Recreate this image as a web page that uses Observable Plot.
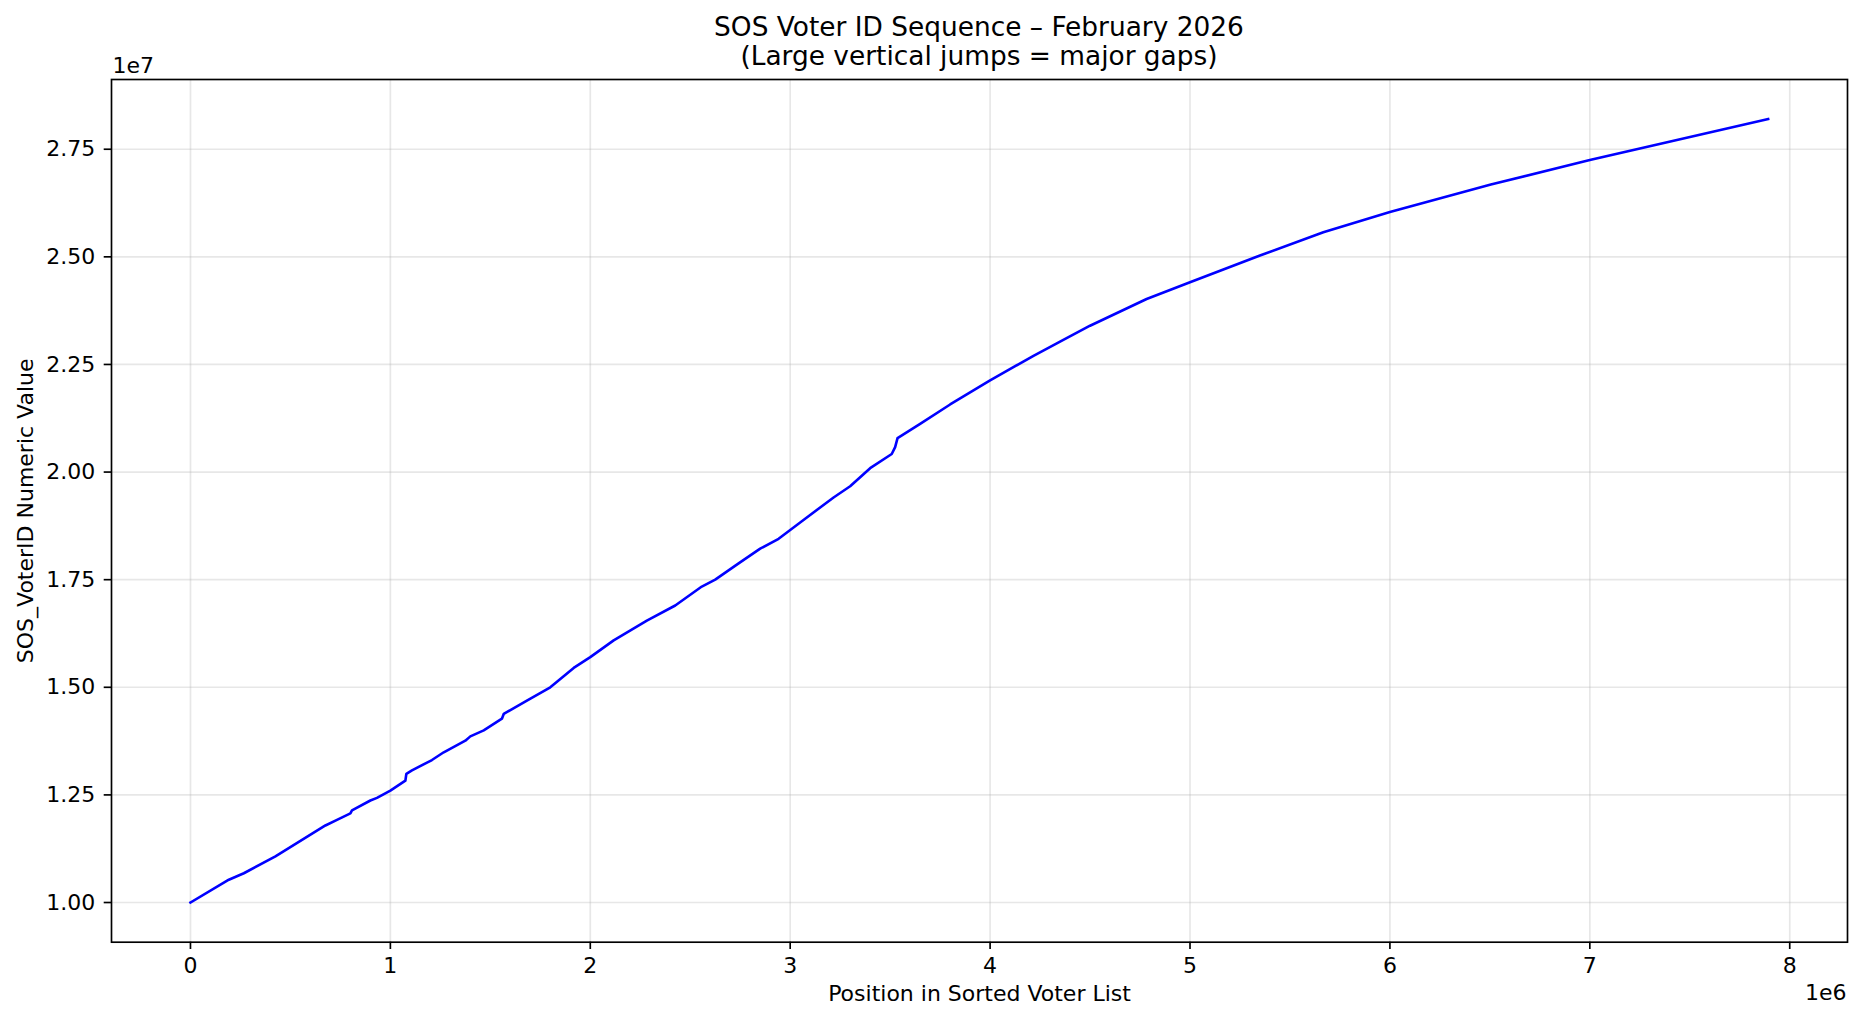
<!DOCTYPE html>
<html>
<head>
<meta charset="utf-8">
<script src="https://cdn.jsdelivr.net/npm/d3@7"></script>
<script src="https://cdn.jsdelivr.net/npm/@observablehq/plot@0.6"></script>
<style>
  html, body { margin: 0; padding: 0; background: #fff; }
  body { font-family: "DejaVu Sans", sans-serif; width: 1863px; height: 1022px; overflow: hidden; }
  #title { position: relative; height: 70px; box-sizing: border-box; padding-top: 11.9px; margin-left: 111px; width: 1736px;
           text-align: center; font-size: 26.4px; line-height: 29.3px; color: #000; white-space: nowrap; }
  #chart svg { display: block; }
</style>
</head>
<body>
<div id="title"><div>SOS Voter ID Sequence – February 2026</div><div>(Large vertical jumps = major gaps)</div></div>
<div id="chart"></div>
<script>
// Position in sorted voter list (units of 1e6)
const positionsM = [0, 0.192, 0.267, 0.425, 0.675, 0.733, 0.80, 0.808, 0.90, 0.933, 1.0, 1.075, 1.08, 1.108,
  1.208, 1.267, 1.375, 1.40, 1.467, 1.558, 1.567, 1.683, 1.80, 1.917, 2.0, 2.117, 2.283, 2.425, 2.558, 2.625,
  2.742, 2.85, 2.942, 3.05, 3.217, 3.30, 3.40, 3.508, 3.525, 3.537, 3.65, 3.80, 4.0, 4.217, 4.35, 4.5, 4.783, 5.0,
  5.35, 5.667, 6.0, 6.505, 7.0, 7.892];
// SOS_VoterID numeric value (units of 1e7)
const voterIdE7 = [1.0, 1.053, 1.068, 1.107, 1.179, 1.192, 1.207, 1.214, 1.237, 1.243, 1.26, 1.283, 1.299, 1.307,
  1.331, 1.349, 1.376, 1.386, 1.40, 1.427, 1.438, 1.469, 1.50, 1.545, 1.570, 1.609, 1.655, 1.690, 1.734, 1.750,
  1.788, 1.822, 1.845, 1.883, 1.941, 1.967, 2.009, 2.042, 2.058, 2.079, 2.112, 2.157, 2.213, 2.270, 2.303, 2.340, 2.402, 2.441,
  2.503, 2.557, 2.604, 2.668, 2.725, 2.820];
const xTicks = [0, 1, 2, 3, 4, 5, 6, 7, 8];
const yTicks = [1.00, 1.25, 1.50, 1.75, 2.00, 2.25, 2.50, 2.75];
const xLabel = "Position in Sorted Voter List";
const yLabel = "SOS_VoterID Numeric Value";
const xOffsetText = "1e6";
const yOffsetText = "1e7";

const data = positionsM.map((p, i) => ({pos: p * 1e6, id: voterIdE7[i] * 1e7}));
const xT = xTicks.map(d => d * 1e6);
const yT = yTicks.map(d => d * 1e7);

const FS = 22;
const chart = Plot.plot({
  width: 1863,
  height: 952,
  marginLeft: 111,
  marginRight: 16,
  marginTop: 9,
  marginBottom: 80.3,
  style: {fontFamily: "DejaVu Sans, sans-serif", background: "#fff", color: "#000", overflow: "visible"},
  x: {domain: [-395000, 8289000]},
  y: {domain: [0.9078e7, 2.912e7]},
  marks: [
    Plot.gridX(xT, {stroke: "#b0b0b0", strokeOpacity: 0.3, strokeWidth: 1.67}),
    Plot.gridY(yT, {stroke: "#b0b0b0", strokeOpacity: 0.3, strokeWidth: 1.67}),
    Plot.line(data, {x: "pos", y: "id", stroke: "#0000ff", strokeWidth: 2.6, strokeLinejoin: "round", strokeLinecap: "square"}),
    Plot.frame({stroke: "#000", strokeWidth: 1.67}),
    Plot.axisX(xT, {tickFormat: d => String(d / 1e6), tickSize: 7.3, tickPadding: 8.1, fontSize: FS, strokeWidth: 1.67, label: null, stroke: "#000"}),
    Plot.axisY(yT, {tickFormat: d => (d / 1e7).toFixed(2), tickSize: 7.3, tickPadding: 8.9, fontSize: FS, strokeWidth: 1.67, label: null, stroke: "#000"}),
    Plot.text([xLabel], {text: d => d, frameAnchor: "bottom", textAnchor: "middle", lineAnchor: "middle", dy: 51.8, fontSize: FS, fill: "#000"}),
    Plot.text([yLabel], {text: d => d, frameAnchor: "left", textAnchor: "middle", lineAnchor: "middle", dx: -86, rotate: -90, fontSize: FS, fill: "#000"}),
    Plot.text([xOffsetText], {text: d => d, frameAnchor: "bottom-right", textAnchor: "end", lineAnchor: "middle", dy: 50.3, dx: -1, fontSize: FS, fill: "#000"}),
    Plot.text([yOffsetText], {text: d => d, frameAnchor: "top-left", textAnchor: "start", lineAnchor: "middle", dy: -13.3, dx: 1, fontSize: FS, fill: "#000"})
  ]
});
document.getElementById("chart").appendChild(chart);
</script>
</body>
</html>
